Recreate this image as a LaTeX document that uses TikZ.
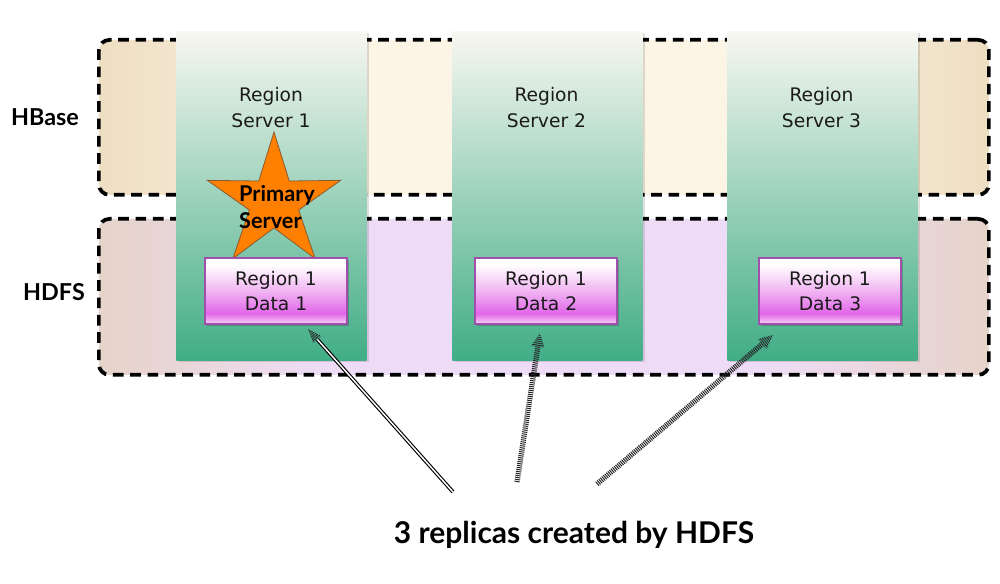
\documentclass[tikz,border=0pt]{standalone}
\usepackage{fontspec}
\setmainfont{DejaVu Sans}
\newfontfamily\latofont{Lato}
\usetikzlibrary{calc,patterns.meta,shadows,shapes.geometric}

\definecolor{txt}{HTML}{1A1A1A}
\definecolor{hbL}{HTML}{EEDEC2}
\definecolor{hbM}{HTML}{FCF4E5}
\definecolor{hdL}{HTML}{E6D3C9}
\definecolor{hdM}{HTML}{EEDCF7}
\definecolor{colT}{HTML}{F8F7F1}
\definecolor{colB}{HTML}{41AD87}
\definecolor{dbBorder}{HTML}{A050AA}
\definecolor{mg}{HTML}{E266EA}
\definecolor{pkB}{HTML}{F6D4F6}
\definecolor{pkM}{HTML}{F0B4F2}
\definecolor{starO}{HTML}{FF8000}
\definecolor{starB}{HTML}{8A5A30}

\pgfdeclareverticalshading{databox}{100bp}{color(0bp)=(pkB); color(25bp)=(pkB); color(33bp)=(mg); color(50bp)=(pkM); color(70bp)=(white); color(100bp)=(white)}
\pgfdeclarehorizontalshading{hbshade}{100bp}{color(0bp)=(hbL); color(25bp)=(hbL); color(38bp)=(hbM); color(62bp)=(hbM); color(75bp)=(hbL); color(100bp)=(hbL)}
\pgfdeclarehorizontalshading{hdshade}{100bp}{color(0bp)=(hdL); color(25bp)=(hdL); color(38bp)=(hdM); color(62bp)=(hdM); color(75bp)=(hdL); color(100bp)=(hdL)}

\newcommand\hatchArrow[3]{% #1 start, #2 end, #3 stripe angle
  \coordinate (hb) at ($(#2)!10.5pt!(#1)$);
  \draw[shaft] (#1) -- (hb);
  \fill[pattern={Lines[angle=#3,distance=1.5pt,line width=0.75pt]}, pattern color=black!85]
    (#2) -- ($(hb)!5pt!90:(#2)$) -- ($(hb)!5pt!-90:(#2)$) -- cycle;
}

\tikzset{
  layer/.style={draw=black, line width=2.8pt, dash pattern=on 8pt off 5pt,
    rounded corners=8pt, anchor=north west, minimum width=667.5pt, inner sep=0pt},
  hbasebox/.style={layer, shading=hbshade, minimum height=116.25pt},
  hdfsbox/.style={layer, shading=hdshade, minimum height=117pt},
  column/.style={top color=colT, bottom color=colB, draw=none, anchor=north west,
    minimum width=142.5pt, minimum height=246.75pt, inner sep=0pt,
    drop shadow={shadow xshift=1.8pt, shadow yshift=-1.2pt, opacity=0.12, fill=black}},
  rstext/.style={font=\fontsize{14}{19.5}\selectfont, text=txt, align=center},
  databoxst/.style={shading=databox, draw=dbBorder, line width=1.4pt,
    minimum width=106.5pt, minimum height=49.5pt, inner sep=0pt,
    font=\fontsize{14}{18.75}\selectfont, text=txt, align=center,
    drop shadow={shadow xshift=1.5pt, shadow yshift=-1.5pt, opacity=0.2, fill=black}},
  layerlabel/.style={font=\latofont\bfseries\fontsize{17.5}{20}\selectfont, text=black},
  starst/.style={star, star points=5, star point ratio=2.7, minimum size=105pt,
    inner sep=0pt, fill=starO, draw=starB, line width=0.6pt},
  startext/.style={font=\latofont\bfseries\fontsize{16.3}{20}\selectfont, text=black, align=left},
  shaft/.style={draw=black!85, line width=4pt, dash pattern=on 0.75pt off 0.75pt},
  dshaft/.style={draw=black, double=white, double distance=1.1pt, line width=0.85pt},
}

\begin{document}
\begin{tikzpicture}[x=0.75pt, y=-0.75pt]
\useasboundingbox (0,0) rectangle (1000,584);

% layers
\node[hbasebox] (hbase) at (97,38) {};
\node[hdfsbox] (hdfs) at (97,217) {};
\node[layerlabel] (hbl) at (45,117) {HBase};
\node[layerlabel] (hdl) at (54,292) {HDFS};

% region server columns
\node[column] (rs1) at (176,31) {};
\node[column] (rs2) at (452,31) {};
\node[column] (rs3) at (727,31) {};
\node[rstext] (rs1t) at (271,108) {Region\\Server 1};
\node[rstext] (rs2t) at (546.5,108) {Region\\Server 2};
\node[rstext] (rs3t) at (821.5,108) {Region\\Server 3};

% primary star
\node[starst] (star) at (274,202) {};
\node[startext] (primary) at (277,207) {Primary\\Server};

% data boxes
\node[databoxst] (d1) at (276,291) {Region 1\\Data 1};
\node[databoxst] (d2) at (546,291) {Region 1\\Data 2};
\node[databoxst] (d3) at (830,291) {Region 1\\Data 3};

% caption
\node[font=\latofont\bfseries\fontsize{22.5}{27}\selectfont, text=black] (cap) at (574,535) {3 replicas created by HDFS};

% arrows
\coordinate (s1) at (453,492);
\coordinate (s2) at (517,482);
\coordinate (s3) at (597,484);
\coordinate (e1) at ([shift={(32,4)}]d1.south);
\coordinate (e2) at ([shift={(-6,8)}]d2.south);
\coordinate (e3) at ([shift={(-57,10)}]d3.south);

\coordinate (hb1) at ($(e1)!10.5pt!(s1)$);
\draw[dshaft] (s1) -- (hb1);
\fill[pattern={Lines[angle=41,distance=1.5pt,line width=0.75pt]}, pattern color=black!85]
  (e1) -- ($(hb1)!4pt!90:(e1)$) -- ($(hb1)!4pt!-90:(e1)$) -- cycle;

\hatchArrow{s2}{e2}{171}
\hatchArrow{s3}{e3}{130}
\end{tikzpicture}
\end{document}
